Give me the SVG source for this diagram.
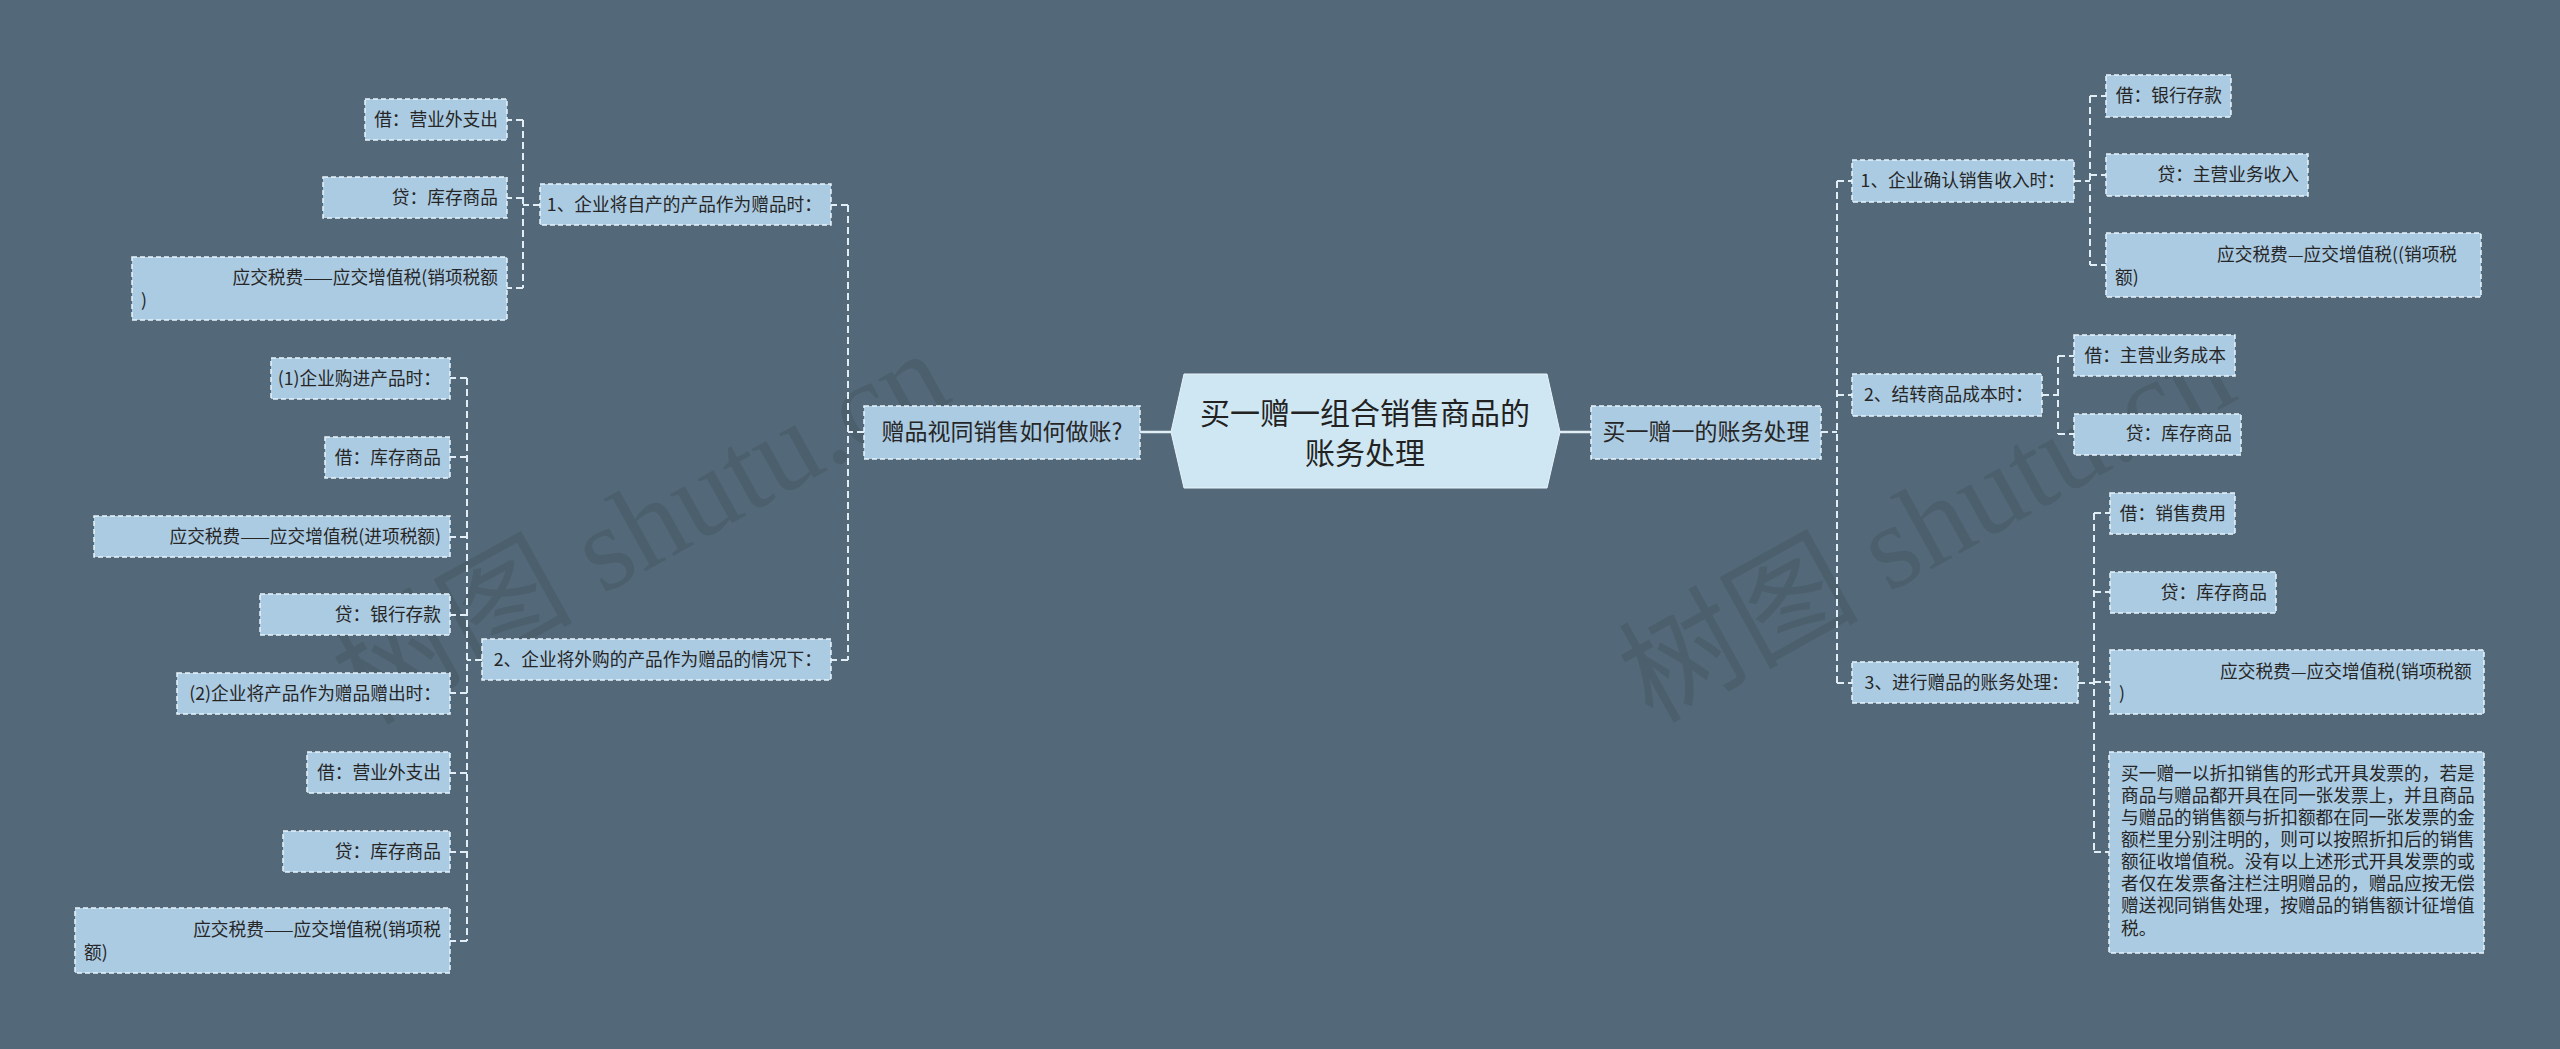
<svg xmlns="http://www.w3.org/2000/svg" width="2560" height="1049" viewBox="0 0 2560 1049">
<style>
.bg{fill:#536979}
.box{fill:#abcbe2;stroke:#e9f4fb;stroke-width:1.5;stroke-dasharray:5 3}
.core{fill:#cfe7f3;stroke:#e9f4fb;stroke-width:1}
.t{font-family:"Noto Sans CJK SC","Noto Sans",sans-serif;font-size:17.7px;fill:#262626}
.t1{font-family:"Noto Sans CJK SC","Noto Sans",sans-serif;font-size:23px;fill:#262626;text-anchor:middle}
.t0{font-family:"Noto Sans CJK SC","Noto Sans",sans-serif;font-size:30px;fill:#222;text-anchor:middle}
.e{text-anchor:end}
.c{fill:none;stroke:#e2eef6;stroke-width:2;stroke-dasharray:7 4}
.s{fill:none;stroke:#e2eef6;stroke-width:2.5}
.wm{font-family:"Liberation Serif","Noto Sans CJK SC",serif;font-size:120px;fill:#000;opacity:0.09}
</style>
<rect class="bg" x="0" y="0" width="2560" height="1049"/>

<g id="watermarks">
<text class="wm" transform="translate(366,726) rotate(-29)">树图 shutu.cn</text>
<text class="wm" transform="translate(1652,724) rotate(-29)">树图 shutu.cn</text>
</g>

<g id="connectors">
<path class="s" d="M1140 432H1171"/>
<path class="s" d="M1560 432H1591"/>
<path class="c" d="M864 432H848M848 205V660M848 205H831M848 660H831"/>
<path class="c" d="M540 205H523M523 120V288M523 120H507M523 198H507M523 288H507"/>
<path class="c" d="M482 660H467M467 378V941M467 378H450M467 457H450M467 537H450M467 615H450M467 693H450M467 773H450M467 852H450M467 941H450"/>
<path class="c" d="M1821 432H1837M1837 181V683M1837 181H1852M1837 395H1852M1837 683H1852"/>
<path class="c" d="M2074 181H2090M2090 96V265M2090 96H2106M2090 175H2106M2090 265H2106"/>
<path class="c" d="M2042 395H2058M2058 356V434M2058 356H2074M2058 434H2074"/>
<path class="c" d="M2078 683H2094M2094 513V852M2094 513H2110M2094 592H2110M2094 682H2110M2094 852H2109"/>
</g>

<g id="center">
<polygon class="core" points="1171,432 1184,374 1547,374 1560,432 1547,488 1184,488"/>
<text class="t0" x="1365" y="424">买一赠一组合销售商品的</text>
<text class="t0" x="1365" y="464">账务处理</text>
</g>

<g id="L1">
<rect class="box" x="864" y="406" width="276" height="53"/>
<text class="t1" x="1002" y="440">赠品视同销售如何做账?</text>
</g>
<g id="A">
<rect class="box" x="540" y="184" width="291" height="41"/>
<text class="t e" x="822" y="211">1、企业将自产的产品作为赠品时：</text>
</g>
<g id="A1">
<rect class="box" x="365" y="99" width="142" height="41"/>
<text class="t e" x="498" y="126">借：营业外支出</text>
</g>
<g id="A2">
<rect class="box" x="323" y="177" width="184" height="41"/>
<text class="t e" x="498" y="204">贷：库存商品</text>
</g>
<g id="A3">
<rect class="box" x="132" y="257" width="375" height="63"/>
<text class="t e" x="498" y="284">应交税费——应交增值税(销项税额</text>
<text class="t" x="141" y="307">)</text>
</g>
<g id="B">
<rect class="box" x="482" y="639" width="349" height="41"/>
<text class="t e" x="822" y="666">2、企业将外购的产品作为赠品的情况下：</text>
</g>
<g id="B1">
<rect class="box" x="271" y="358" width="179" height="41"/>
<text class="t e" x="441" y="385">(1)企业购进产品时：</text>
</g>
<g id="B2">
<rect class="box" x="325" y="437" width="125" height="41"/>
<text class="t e" x="441" y="464">借：库存商品</text>
</g>
<g id="B3">
<rect class="box" x="94" y="516" width="356" height="41"/>
<text class="t e" x="441" y="543">应交税费——应交增值税(进项税额)</text>
</g>
<g id="B4">
<rect class="box" x="260" y="594" width="190" height="41"/>
<text class="t e" x="441" y="621">贷：银行存款</text>
</g>
<g id="B5">
<rect class="box" x="177" y="673" width="273" height="41"/>
<text class="t e" x="441" y="700">(2)企业将产品作为赠品赠出时：</text>
</g>
<g id="B6">
<rect class="box" x="307" y="752" width="143" height="41"/>
<text class="t e" x="441" y="779">借：营业外支出</text>
</g>
<g id="B7">
<rect class="box" x="283" y="831" width="167" height="41"/>
<text class="t e" x="441" y="858">贷：库存商品</text>
</g>
<g id="B8">
<rect class="box" x="75" y="908" width="375" height="65"/>
<text class="t e" x="441" y="936">应交税费——应交增值税(销项税</text>
<text class="t" x="84" y="959">额)</text>
</g>

<g id="R1">
<rect class="box" x="1591" y="406" width="230" height="53"/>
<text class="t1" x="1706" y="440">买一赠一的账务处理</text>
</g>
<g id="C">
<rect class="box" x="1852" y="160" width="222" height="42"/>
<text class="t e" x="2065" y="187">1、企业确认销售收入时：</text>
</g>
<g id="C1">
<rect class="box" x="2106" y="75" width="125" height="42"/>
<text class="t e" x="2222" y="102">借：银行存款</text>
</g>
<g id="C2">
<rect class="box" x="2106" y="154" width="202" height="42"/>
<text class="t e" x="2299" y="181">贷：主营业务收入</text>
</g>
<g id="C3">
<rect class="box" x="2106" y="233" width="375" height="64"/>
<text class="t" x="2217" y="261">应交税费—应交增值税((销项税</text>
<text class="t" x="2115" y="284">额)</text>
</g>
<g id="D">
<rect class="box" x="1852" y="374" width="190" height="42"/>
<text class="t e" x="2033" y="401">2、结转商品成本时：</text>
</g>
<g id="D1">
<rect class="box" x="2074" y="335" width="161" height="41"/>
<text class="t e" x="2226" y="362">借：主营业务成本</text>
</g>
<g id="D2">
<rect class="box" x="2074" y="414" width="167" height="41"/>
<text class="t e" x="2232" y="440">贷：库存商品</text>
</g>
<g id="E">
<rect class="box" x="1852" y="662" width="226" height="41"/>
<text class="t e" x="2069" y="689">3、进行赠品的账务处理：</text>
</g>
<g id="E1">
<rect class="box" x="2110" y="493" width="125" height="41"/>
<text class="t e" x="2226" y="520">借：销售费用</text>
</g>
<g id="E2">
<rect class="box" x="2110" y="572" width="166" height="41"/>
<text class="t e" x="2267" y="599">贷：库存商品</text>
</g>
<g id="E3">
<rect class="box" x="2110" y="650" width="374" height="64"/>
<text class="t" x="2220" y="678">应交税费—应交增值税(销项税额</text>
<text class="t" x="2119" y="700">)</text>
</g>
<g id="E4">
<rect class="box" x="2109" y="752" width="375" height="201"/>
<text class="t" x="2121" y="780">买一赠一以折扣销售的形式开具发票的，若是</text>
<text class="t" x="2121" y="802">商品与赠品都开具在同一张发票上，并且商品</text>
<text class="t" x="2121" y="824">与赠品的销售额与折扣额都在同一张发票的金</text>
<text class="t" x="2121" y="846">额栏里分别注明的，则可以按照折扣后的销售</text>
<text class="t" x="2121" y="868">额征收增值税。没有以上述形式开具发票的或</text>
<text class="t" x="2121" y="890">者仅在发票备注栏注明赠品的，赠品应按无偿</text>
<text class="t" x="2121" y="912">赠送视同销售处理，按赠品的销售额计征增值</text>
<text class="t" x="2121" y="935">税。</text>
</g>
</svg>
